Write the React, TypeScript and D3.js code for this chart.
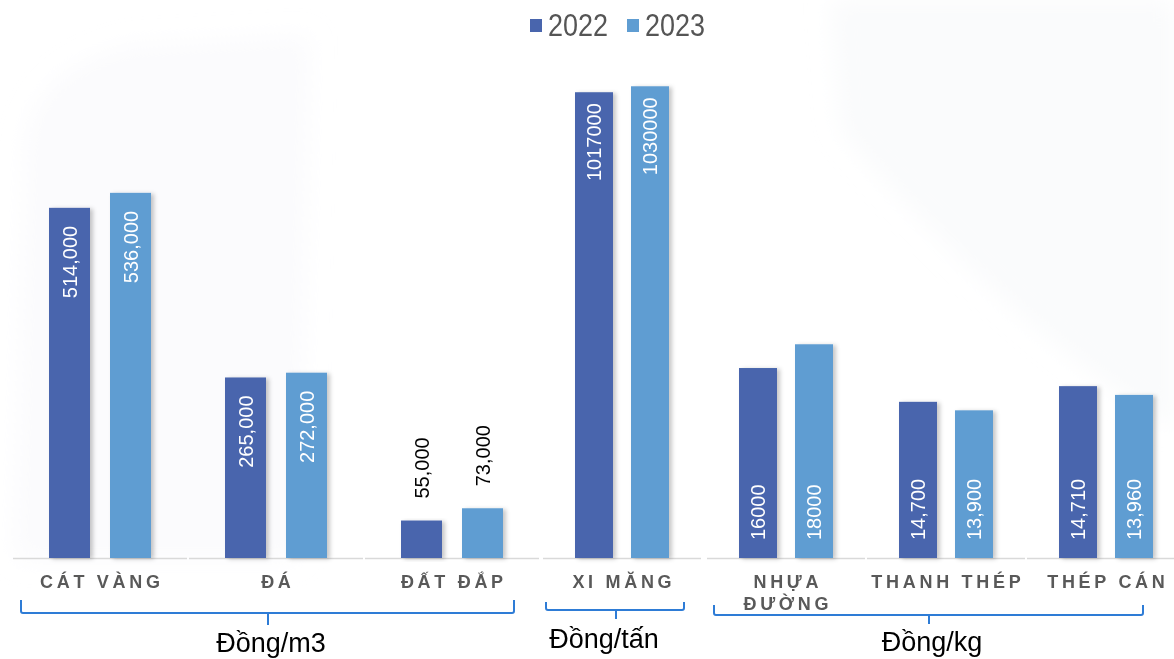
import React from "react";
import * as d3 from "d3";

// ---------- data ----------
const categories = ["CÁT VÀNG", "ĐÁ", "ĐẤT ĐẮP", "XI MĂNG", "NHỰA\nĐƯỜNG", "THANH THÉP", "THÉP CÁN"];
const seriesNames = ["2022", "2023"];
const values2022 = [514000, 265000, 55000, 1017000, 16000, 14700, 14710];
const values2023 = [536000, 272000, 73000, 1030000, 18000, 13900, 13960];
const labels2022 = ["514,000", "265,000", "55,000", "1017000", "16000", "14,700", "14,710"];
const labels2023 = ["536,000", "272,000", "73,000", "1030000", "18000", "13,900", "13,960"];
// each category is its own small chart with its own value axis maximum
const axisMax = [800000, 800000, 800000, 1190000, 45900, 51300, 46650];
const unitNames = ["Đồng/m3", "Đồng/tấn", "Đồng/kg"];
const unitOfCategory = [0, 0, 0, 1, 2, 2, 2];
const labelPlacement = ["insideEnd", "insideEnd", "outsideEnd", "insideEnd", "insideBase", "insideBase", "insideBase"];

// ---------- layout ----------
const W = 1174;
const H = 659;
const baseY = 558;
const topY = 13;
const panelRanges: [number, number][] = [[12, 540], [542, 702], [706, 1186]];
const panelBar = [{ bar: 41, gap: 20 }, { bar: 38, gap: 18 }, { bar: 38, gap: 18 }];
const colors = ["#4965AD", "#5F9DD2"];
const brackets = [
  { x1: 21, x2: 514, top: 600, mid: 613, tick: 625, cx: 268, tx: 271, ty: 652 },
  { x1: 546, x2: 684, top: 602, mid: 610, tick: 619, cx: 616, tx: 604, ty: 648 },
  { x1: 714, x2: 1143, top: 605, mid: 615, tick: 624, cx: 929, tx: 932, ty: 651 },
];
const FONT = "'Liberation Sans', Arial, sans-serif";
const LS = 3.7;

export default function App() {
  const seriesValues = [values2022, values2023];
  const seriesLabels = [labels2022, labels2023];

  const panels = unitNames.map((_, p) => {
    const cats = categories.map((c, i) => i).filter((i) => unitOfCategory[i] === p);
    const [r0, r1] = panelRanges[p];
    const step = (r1 - r0) / cats.length;
    const bw = panelBar[p].bar * 2 + panelBar[p].gap;
    const pi = 1 - bw / step;
    const x0 = d3.scaleBand<number>().domain(cats).range([r0, r1]).paddingInner(pi).paddingOuter(pi / 2);
    const x1 = d3
      .scaleBand<string>()
      .domain(seriesNames)
      .range([0, x0.bandwidth()])
      .paddingInner(panelBar[p].gap / (panelBar[p].bar + panelBar[p].gap));
    return { cats, x0, x1 };
  });

  const elements: React.ReactNode[] = [];
  panels.forEach((pn, p) => {
    pn.cats.forEach((ci) => {
      const y = d3.scaleLinear().domain([0, axisMax[ci]]).range([baseY, topY]);
      const bandStart = (pn.x0(ci) as number) - (pn.x0.step() - pn.x0.bandwidth()) / 2;
      const bandEnd = bandStart + pn.x0.step();
      const cx = (pn.x0(ci) as number) + pn.x0.bandwidth() / 2;
      elements.push(
        <line
          key={`base-${ci}`}
          x1={bandStart + 1}
          x2={Math.min(bandEnd - 1, W)}
          y1={baseY + 0.5}
          y2={baseY + 0.5}
          stroke="#d9d9d9"
          strokeWidth={1.5}
        />
      );
      seriesNames.forEach((s, si) => {
        const v = seriesValues[si][ci];
        const bx = (pn.x0(ci) as number) + (pn.x1(s) as number);
        const bwid = pn.x1.bandwidth();
        const top = y(v);
        elements.push(
          <rect
            key={`bar-${ci}-${si}`}
            x={bx}
            y={top}
            width={bwid}
            height={baseY - top}
            fill={colors[si]}
            filter="url(#shadow)"
          />
        );
        const place = labelPlacement[ci];
        let ly = 0;
        let anchor = "start";
        let fill = "#ffffff";
        if (place === "insideEnd") {
          ly = top + (p === 1 ? 11 : 18);
          anchor = "end";
        } else if (place === "outsideEnd") {
          ly = top - 22;
          anchor = "start";
          fill = "#000000";
        } else {
          ly = baseY - 18;
          anchor = "start";
        }
        elements.push(
          <text
            key={`lab-${ci}-${si}`}
            transform={`translate(${bx + bwid / 2},${ly}) rotate(-90)`}
            dy="0.36em"
            textAnchor={anchor}
            fontFamily={FONT}
            fontSize={20}
            fill={fill}
          >
            {seriesLabels[si][ci]}
          </text>
        );
      });
      const lines = categories[ci].split("\n");
      elements.push(
        <text
          key={`cat-${ci}`}
          x={cx + LS / 2}
          y={588}
          textAnchor="middle"
          fontFamily={FONT}
          fontWeight="bold"
          fontSize={18}
          letterSpacing={LS}
          fill="#595959"
        >
          {lines.map((ln, k) => (
            <tspan key={k} x={cx + LS / 2} dy={k === 0 ? 0 : 22}>
              {ln}
            </tspan>
          ))}
        </text>
      );
    });
  });

  return (
    <svg
      width={W}
      height={H}
      style={{ position: "absolute", left: 0, top: 0, display: "block" }}
      xmlns="http://www.w3.org/2000/svg"
    >
      <defs>
        <filter id="shadow" x="-20%" y="-5%" width="150%" height="115%">
          <feDropShadow dx="3" dy="1" stdDeviation="2" floodColor="#000" floodOpacity="0.22" />
        </filter>
        <filter id="soft" x="-20%" y="-20%" width="140%" height="140%">
          <feGaussianBlur stdDeviation="12" />
        </filter>
      </defs>
      <rect x={0} y={0} width={W} height={H} fill="#ffffff" />
      {/* faint background shapes */}
      <g filter="url(#soft)">
        <path d="M25,140 Q35,70 130,45 L310,35 L300,560 L15,560 Z" fill="#f7f8fb" opacity={0.5} />
        <path d="M830,0 L1174,0 L1174,430 Q1000,320 840,130 Z" fill="#f6f7fa" opacity={0.5} />
      </g>

      {/* legend */}
      {seriesNames.map((s, i) => {
        const lx = i === 0 ? 530 : 627;
        return (
          <g key={`leg-${s}`}>
            <rect x={lx} y={19} width={12} height={13} fill={colors[i]} />
            <text
              x={lx + 18}
              y={36}
              fontFamily={FONT}
              fontSize={31}
              fill="#555555"
              textLength={60}
              lengthAdjust="spacingAndGlyphs"
            >
              {s}
            </text>
          </g>
        );
      })}

      {elements}

      {/* unit brackets */}
      {brackets.map((b, i) => (
        <g key={`br-${i}`}>
          <path
            d={`M${b.x1},${b.top} L${b.x1},${b.mid - 2} Q${b.x1},${b.mid} ${b.x1 + 2},${b.mid} L${b.x2 - 2},${b.mid} Q${b.x2},${b.mid} ${b.x2},${b.mid - 2} L${b.x2},${b.top} M${b.cx},${b.mid} L${b.cx},${b.tick}`}
            fill="none"
            stroke="#2E7CD6"
            strokeWidth={2}
          />
          <text x={b.tx} y={b.ty} textAnchor="middle" fontFamily={FONT} fontSize={27} fill="#000000">
            {unitNames[i]}
          </text>
        </g>
      ))}
    </svg>
  );
}
